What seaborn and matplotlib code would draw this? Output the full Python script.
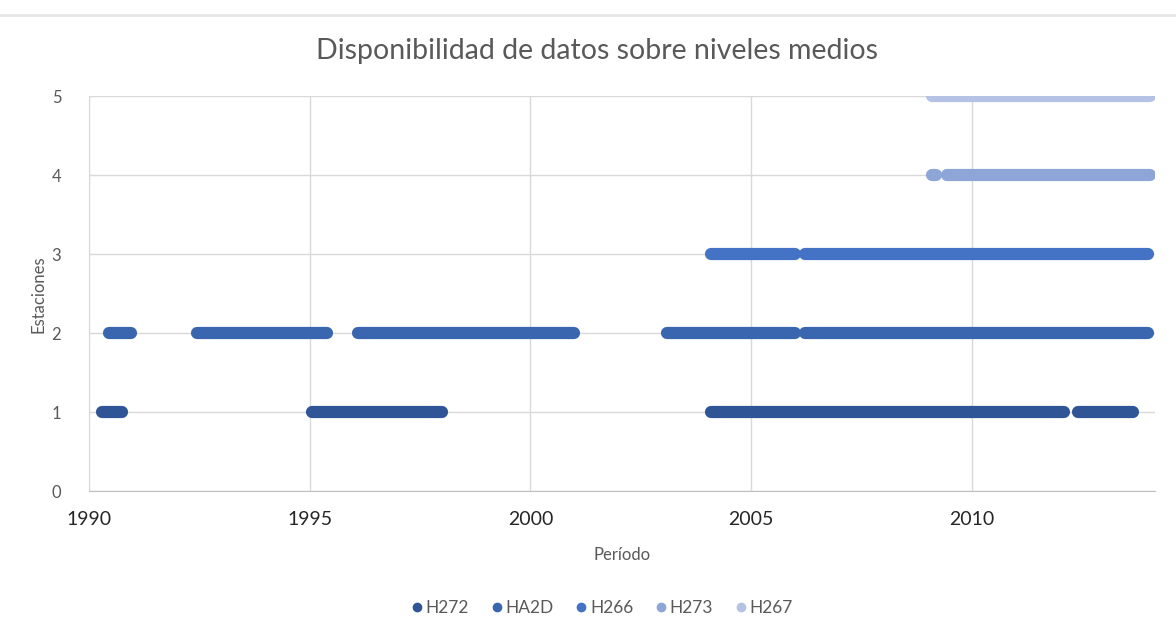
import pandas as pd
import matplotlib.pyplot as plt
from matplotlib.lines import Line2D
import seaborn as sns

# Stations and the level (row) they are drawn on
stations = ["H272", "HA2D", "H266", "H273", "H267"]
levels = [1, 2, 3, 4, 5]
colors = ["#2F5597", "#3A66B0", "#4472C4", "#8EA5D7", "#B4C3E5"]

# Periods with data (start, end) in decimal years
h272_start = [1990.3, 1995.05, 2004.1, 2012.4]
h272_end = [1990.75, 1998.0, 2012.1, 2013.65]
ha2d_start = [1990.45, 1992.45, 1996.1, 2003.1, 2006.22]
ha2d_end = [1990.95, 1995.4, 2001.0, 2006.0, 2014.0]
h266_start = [2004.1, 2006.22]
h266_end = [2006.0, 2014.0]
h273_start = [2009.1, 2009.45]
h273_end = [2009.2, 2014.05]
h267_start = [2009.1]
h267_end = [2014.05]

starts = [h272_start, ha2d_start, h266_start, h273_start, h267_start]
ends = [h272_end, ha2d_end, h266_end, h273_end, h267_end]

rows = []
for st, lv, s_list, e_list in zip(stations, levels, starts, ends):
    for i, (s, e) in enumerate(zip(s_list, e_list)):
        rows.append({"station": st, "seg": st + str(i), "year": s, "level": lv})
        rows.append({"station": st, "seg": st + str(i), "year": e, "level": lv})
df = pd.DataFrame(rows)

sns.set_style("whitegrid", {"grid.color": "#D9D9D9", "axes.edgecolor": "#BFBFBF"})
plt.rcParams["font.family"] = ["Lato", "DejaVu Sans"]

fig = plt.figure(figsize=(11.76, 6.17), dpi=100)
ax = fig.add_axes([0.0757, 0.204, 0.9063, 0.640])

sns.lineplot(data=df, x="year", y="level", hue="station", units="seg",
             estimator=None, sort=False, palette=dict(zip(stations, colors)),
             linewidth=8.8, solid_capstyle="round", legend=False, ax=ax)

ax.set_xlim(1990, 2014.15)
ax.set_ylim(0, 5)
ax.set_xticks([1990, 1995, 2000, 2005, 2010])
ax.set_yticks([0, 1, 2, 3, 4, 5])
ax.grid(True, color="#D9D9D9", linewidth=1)
for side in ["top", "right"]:
    ax.spines[side].set_visible(False)
ax.spines["left"].set_color("#D9D9D9")
ax.spines["bottom"].set_color("#BFBFBF")
ax.tick_params(axis="y", labelsize=12, colors="#595959", length=0, pad=20)
ax.tick_params(axis="x", labelsize=14, labelcolor="#262626", length=0, pad=14)

ax.set_title("Disponibilidad de datos sobre niveles medios", fontsize=20.5,
             color="#595959", pad=27, x=0.477)
ax.set_xlabel("Período", fontsize=12, color="#595959", labelpad=14)
ax.set_ylabel("Estaciones", fontsize=12, color="#595959", labelpad=10)
ax.yaxis.set_label_coords(-0.04, 0.5)

handles = [Line2D([], [], marker="o", linestyle="", markersize=6,
                  markerfacecolor=c, markeredgecolor=c) for c in colors]
fig.legend(handles, stations, loc="center", bbox_to_anchor=(0.51, 0.014),
           ncol=5, frameon=False, fontsize=12.5, handletextpad=-0.1,
           columnspacing=1.0, handlelength=1.2, labelcolor="#595959")

# faint sheet line at the very top
fig.add_artist(Line2D([0.0, 1.0], [0.976, 0.976], color="#E6E6E6", linewidth=2))

fig.savefig("out.png", dpi=100)
